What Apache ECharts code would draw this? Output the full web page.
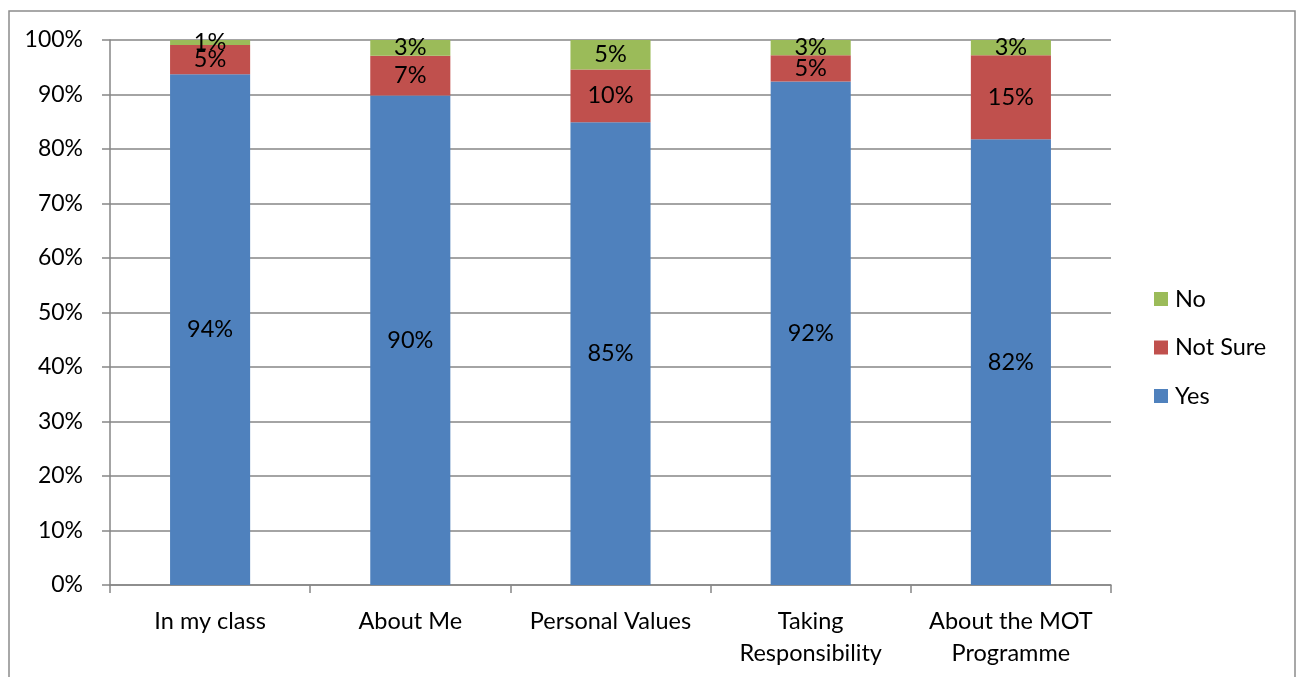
<!DOCTYPE html>
<html><head><meta charset="utf-8">
<script src="https://cdn.jsdelivr.net/npm/echarts@6/dist/echarts.min.js"></script>
<style>html,body{margin:0;padding:0;background:#fff}#c{width:1297px;height:677px}</style>
</head><body><div id="c"></div>
<script>
const categories = ['In my class', 'About Me', 'Personal Values', 'Taking\nResponsibility', 'About the MOT\nProgramme'];
const yesValues = [93.7, 89.8, 84.9, 92.4, 81.8];
const notSureValues = [5.4, 7.3, 9.7, 4.8, 15.4];
const noValues = [0.9, 2.9, 5.4, 2.8, 2.8];
const yTicks = [0, 10, 20, 30, 40, 50, 60, 70, 80, 90, 100];

const FONT = 'Lato';
const chart = echarts.init(document.getElementById('c'));
const lbl = {show: true, position: 'inside', color: '#000', fontFamily: FONT, fontSize: 23.5,
  formatter: p => Math.round(p.value) + '%'};
function ser(name, data, color) {
  return {name, type: 'bar', stack: 'total', data, barWidth: '40%',
    itemStyle: {color}, label: lbl, emphasis: {disabled: true}};
}
chart.setOption({
  animation: false,
  graphic: [{type: 'rect', shape: {x: 9, y: 11, width: 1286, height: 700},
    style: {fill: 'none', stroke: '#8c8c8c', lineWidth: 1.5}, silent: true}],
  grid: {left: 110, right: 186, top: 40, bottom: 92},
  legend: {orient: 'vertical', left: 1154, top: 287, padding: 0, itemWidth: 14, itemHeight: 14, itemGap: 24.5,
    icon: 'rect', data: ['No', 'Not Sure', 'Yes'],
    textStyle: {fontFamily: FONT, fontSize: 23.5, color: '#000', padding: [0, 0, 0, 2]}},
  xAxis: {type: 'category', data: categories,
    axisLine: {lineStyle: {color: '#868686', width: 1.5}},
    axisTick: {show: true, length: 8, lineStyle: {color: '#868686', width: 1.5}},
    axisLabel: {fontFamily: FONT, fontSize: 23.5, color: '#000', margin: 20, lineHeight: 32, interval: 0}},
  yAxis: {type: 'value', min: yTicks[0], max: yTicks[yTicks.length - 1], interval: 10,
    axisLine: {show: true, lineStyle: {color: '#868686', width: 1.5}},
    axisTick: {show: true, length: 8, lineStyle: {color: '#868686', width: 1.5}},
    splitLine: {lineStyle: {color: '#868686', width: 1.5}},
    axisLabel: {fontFamily: FONT, fontSize: 23, color: '#000', margin: 27, formatter: '{value}%'}},
  series: [
    ser('Yes', yesValues, '#4F81BD'),
    ser('Not Sure', notSureValues, '#C0504D'),
    ser('No', noValues, '#9BBB59')
  ]
});
</script></body></html>
